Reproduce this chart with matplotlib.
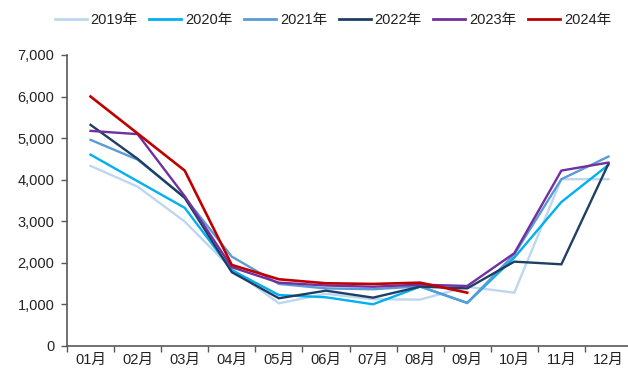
import matplotlib
matplotlib.use("Agg")
import matplotlib.pyplot as plt
from matplotlib.ticker import FuncFormatter, FixedLocator

plt.rcParams['font.family'] = ['Liberation Sans', 'Noto Sans CJK SC']

months = ["01月", "02月", "03月", "04月", "05月", "06月",
          "07月", "08月", "09月", "10月", "11月", "12月"]

y2019 = [4330, 3830, 2990, 1850, 1020, 1250, 1120, 1110, 1420, 1277, 4010, 4010]
y2020 = [4600, 3960, 3320, 1820, 1220, 1166, 997, 1422, 1030, 2120, 3460, 4354]
y2021 = [4957, 4480, 3570, 2145, 1487, 1380, 1359, 1430, 1030, 2200, 4010, 4554]
y2022 = [5318, 4500, 3560, 1770, 1142, 1325, 1157, 1422, 1380, 2024, 1960, 4380]
y2023 = [5173, 5094, 3600, 1890, 1518, 1450, 1420, 1470, 1438, 2227, 4217, 4410]
y2024 = [6000, 5110, 4217, 1945, 1600, 1503, 1487, 1518, 1277]

series = [
    ("2019年", y2019, "#bdd7ee", 1.7),
    ("2020年", y2020, "#00b0f0", 1.7),
    ("2021年", y2021, "#5b9bd5", 1.7),
    ("2022年", y2022, "#1f3e64", 1.7),
    ("2023年", y2023, "#7030a0", 1.7),
    ("2024年", y2024, "#c00000", 1.9),
]

fig = plt.figure(figsize=(6.28, 3.68), dpi=100)
ax = fig.add_axes([67 / 628, 22.3 / 368, 565 / 628, 290.7 / 368])

for name, vals, color, lw in series:
    ax.plot(range(len(vals)), vals, color=color, lw=lw, label=name,
            solid_joinstyle="miter")

ax.set_xlim(-0.5, 11.5)
ax.set_ylim(0, 7000)
ax.set_yticks(range(0, 7001, 1000))
ax.yaxis.set_major_formatter(FuncFormatter(lambda v, p: f"{int(v):,}"))

ax.set_xticks(range(12))
ax.set_xticklabels(months)
ax.xaxis.set_minor_locator(FixedLocator([i - 0.5 for i in range(13)]))
ax.tick_params(axis="x", which="major", length=0, pad=5, labelsize=10.5, colors="#222222")
ax.tick_params(axis="x", which="minor", length=4, width=1, color="#595959")
ax.tick_params(axis="y", length=4, width=1, color="#595959", labelsize=10.5,
               labelcolor="#222222", pad=5)

for side in ("top", "right"):
    ax.spines[side].set_visible(False)
for side in ("left", "bottom"):
    ax.spines[side].set_color("#595959")
    ax.spines[side].set_linewidth(1.2)

leg = fig.legend(loc="center", bbox_to_anchor=(0.53, 1 - 20 / 368), ncol=6,
                 frameon=False, fontsize=10.5, handlelength=2.2,
                 handletextpad=0.25, columnspacing=0.8, borderaxespad=0)
for line in leg.get_lines():
    line.set_linewidth(2)
for t in leg.get_texts():
    t.set_color("#222222")

fig.savefig("out.png", dpi=100)
